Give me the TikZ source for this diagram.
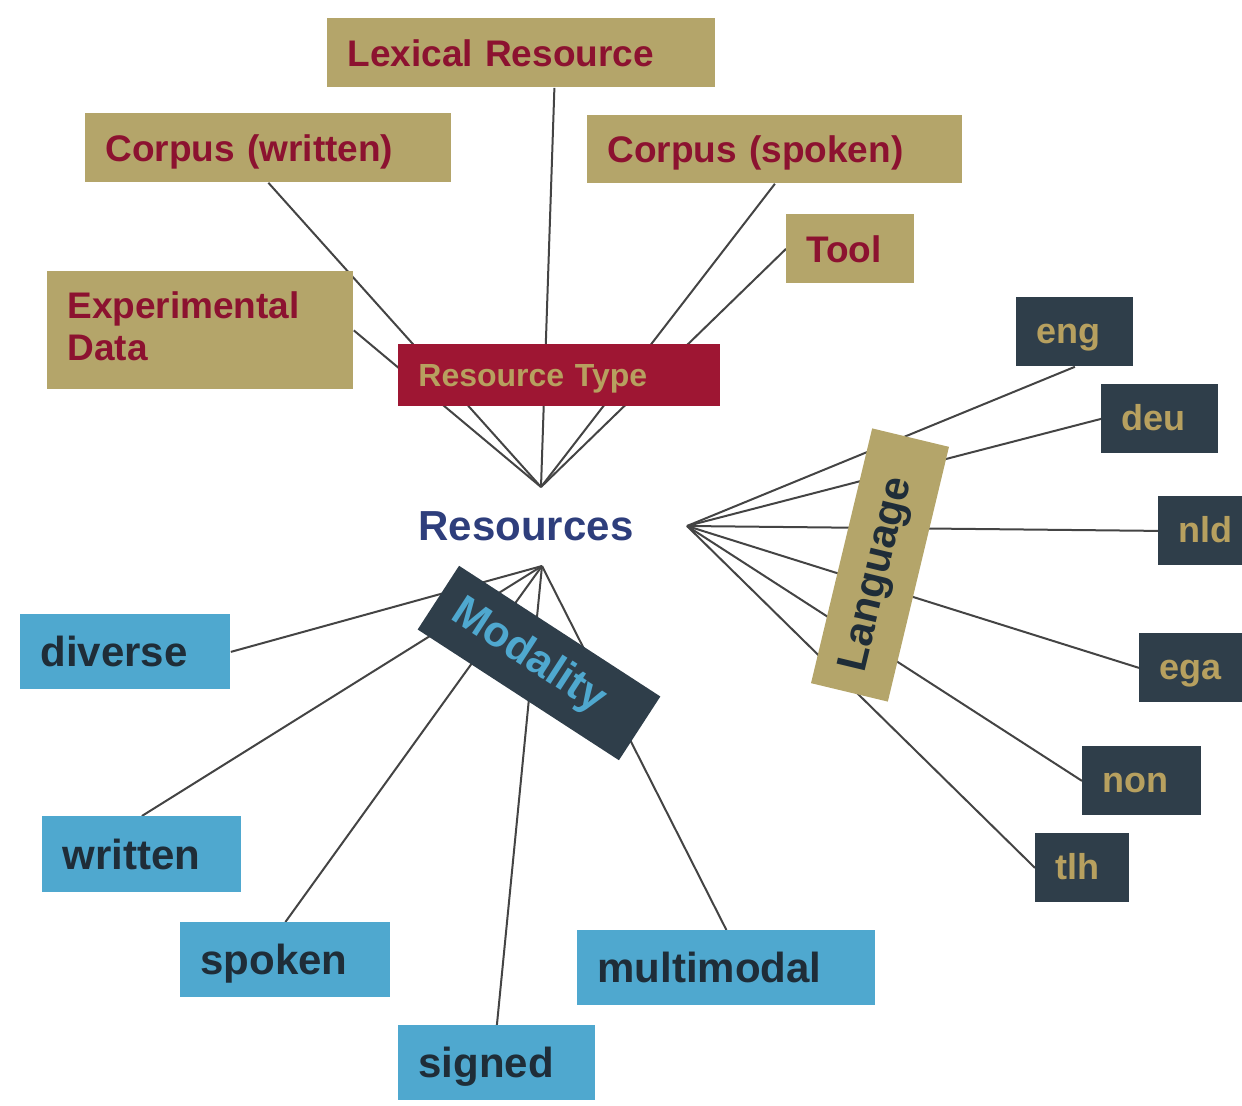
\documentclass[tikz,border=0pt]{standalone}
\usepackage{fontspec}
\setmainfont{Liberation Sans}
\usetikzlibrary{backgrounds}

\definecolor{sand}{RGB}{180,165,106}
\definecolor{wine}{RGB}{158,22,51}
\definecolor{winetext}{RGB}{140,18,48}
\definecolor{sky}{RGB}{79,168,207}
\definecolor{slate}{RGB}{47,62,74}
\definecolor{ink}{RGB}{31,45,56}
\definecolor{goldtext}{RGB}{183,160,95}
\definecolor{navy}{RGB}{46,62,124}
\definecolor{wire}{RGB}{68,68,68}

\tikzset{
  box/.style={anchor=north west, inner xsep=10pt, inner ysep=0pt, align=left,
              font=\bfseries},
  typebox/.style={box, fill=sand, text=winetext, font=\fontsize{18.5}{21}\bfseries,
                  text height=15.2pt, text depth=2pt},
  redbox/.style={box, fill=wine, text=goldtext, font=\fontsize{16}{19}\bfseries,
                 text height=13.5pt, text depth=2pt},
  modebox/.style={box, fill=sky, text=ink, font=\fontsize{21}{24}\bfseries,
                  text height=17pt, text depth=2pt},
  langbox/.style={box, fill=slate, text=goldtext, font=\fontsize{18}{21}\bfseries,
                  text height=15pt, text depth=3pt},
  tag/.style={inner sep=0pt, font=\fontsize{21}{24}\bfseries},
  wirestyle/.style={draw=wire, line width=1pt}
}

\begin{document}
\begin{tikzpicture}[x=0.5pt, y=-0.5pt]
\useasboundingbox (0,0) rectangle (1242,1106);

% resource type branch
\node[typebox, text width=174pt, minimum height=34.5pt] (lex)  at (327,18)  {Lexical Resource};
\node[typebox, text width=163pt, minimum height=34.5pt] (cw)   at (85,113)  {Corpus (written)};
\node[typebox, text width=167.5pt, minimum height=34pt] (cs)   at (587,115) {Corpus (spoken)};
\node[typebox, text width=44pt, minimum height=34.5pt]  (tool) at (786,214) {Tool};
\node[box, fill=sand, text=winetext, font=\fontsize{18.5}{21}\bfseries,
      text width=133pt, minimum height=59pt, text depth=25pt] (exp) at (47,271)
      {Experimental\\Data};
\node[redbox, text width=141pt, minimum height=31pt]    (rt)   at (398,344) {Resource Type};

% centre
\node[inner sep=0pt, text=navy, font=\fontsize{21}{24}\bfseries] (res) at (526,526) {Resources};
\coordinate (hubtop)  at (541,487);
\coordinate (hubmode) at (542,566);
\coordinate (hublang) at (687,526);

% modality branch
\node[modebox, text width=85pt, minimum height=37.5pt]  (div)  at (20,614)   {diverse};
\node[modebox, text width=79.5pt, minimum height=38pt]  (wri)  at (42,816)   {written};
\node[modebox, text width=85pt, minimum height=37.5pt]  (spo)  at (180,922)  {spoken};
\node[modebox, text width=78.5pt, minimum height=37.5pt] (sig) at (398,1025) {signed};
\node[modebox, text width=129pt, minimum height=37.5pt] (mm)   at (577,930)  {multimodal};
\node[tag, fill=slate, text=sky, font=\fontsize{21.5}{24}\bfseries,
      minimum width=120pt, minimum height=38pt, rotate=-33] (moda) at (539,663)
      {Modality\hspace*{12pt}};

% language branch
\node[langbox, text width=38.5pt, minimum height=34.5pt] (eng) at (1016,297) {eng};
\node[langbox, text width=38.5pt, minimum height=34.5pt] (deu) at (1101,384) {deu};
\node[langbox, text width=22pt, minimum height=34.5pt]   (nld) at (1158,496) {nld};
\node[langbox, text width=31.5pt, minimum height=34.5pt] (ega) at (1139,633) {ega};
\node[langbox, text width=39.5pt, minimum height=34.5pt] (non) at (1082,746) {non};
\node[langbox, text width=27pt, minimum height=34.5pt]   (tlh) at (1035,833) {tlh};
\node[tag, fill=sand, text=ink, minimum width=131pt, minimum height=39.5pt, rotate=76.5] (lang) at (880,565)
      {Language\hspace*{10pt}};

\begin{scope}[on background layer]
\begin{scope}[wirestyle]
  \draw (exp.east) -- (hubtop);
  \draw (cw.south) -- (hubtop);
  \draw ([xshift=16.5pt]lex.south) -- (hubtop);
  \draw (cs.south) -- (hubtop);
  \draw (tool.west) -- (hubtop);

  \draw (div.east) -- (hubmode);
  \draw (wri.north) -- (hubmode);
  \draw (spo.north) -- (hubmode);
  \draw (sig.north) -- (hubmode);
  \draw (mm.north) -- (hubmode);

  \draw (eng.south) -- (hublang);
  \draw (deu.west) -- (hublang);
  \draw (nld.west) -- (hublang);
  \draw (ega.west) -- (hublang);
  \draw (non.west) -- (hublang);
  \draw (tlh.west) -- (hublang);
\end{scope}
\end{scope}
\end{tikzpicture}
\end{document}
